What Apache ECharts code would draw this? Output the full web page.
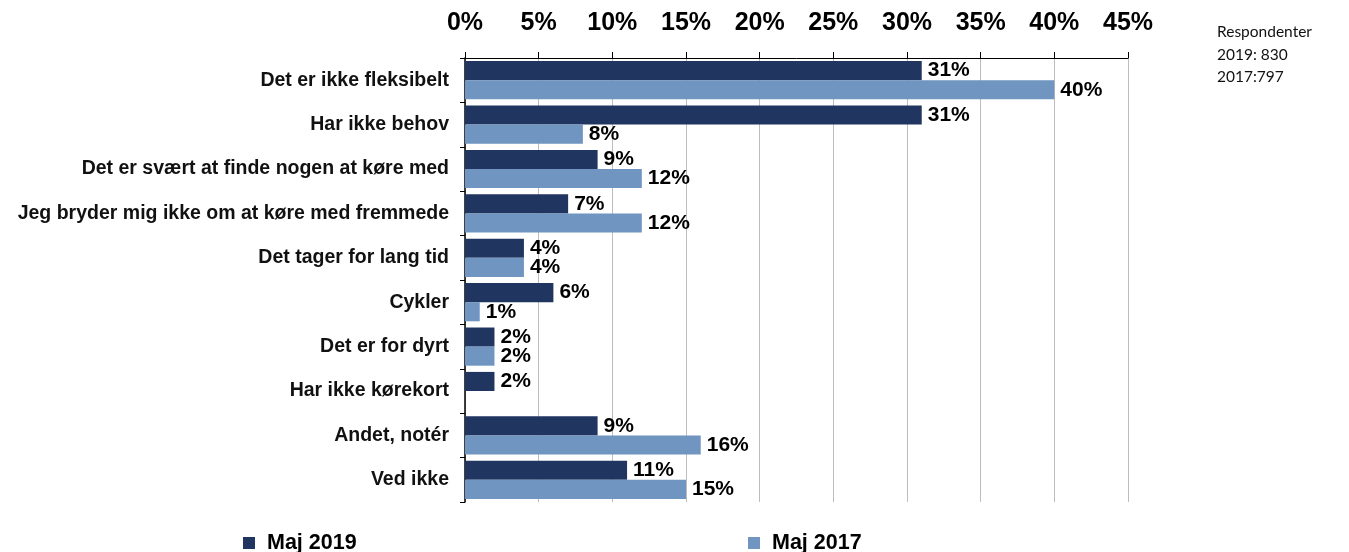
<!DOCTYPE html>
<html><head><meta charset="utf-8">
<script src="https://cdn.jsdelivr.net/npm/echarts@6/dist/echarts.min.js"></script>
<style>html,body{margin:0;padding:0;background:#fff}#c{width:1349px;height:552px}</style>
</head><body><div id="c"></div>
<script>
const categories = ["Det er ikke fleksibelt","Har ikke behov","Det er svært at finde nogen at køre med","Jeg bryder mig ikke om at køre med fremmede","Det tager for lang tid","Cykler","Det er for dyrt","Har ikke kørekort","Andet, notér","Ved ikke"];
const maj2019 = [31,31,9,7,4,6,2,2,9,11];
const maj2017 = [40,8,12,12,4,1,2,null,16,15];
const seriesNames = ["Maj 2019","Maj 2017"];
const respondentText = ["Respondenter","2019: 830","2017:797"];

const chart = echarts.init(document.getElementById('c'));
const FF = '"Liberation Sans", Arial, sans-serif';
const lbl = {show:true, position:'right', distance:6, formatter:'{c}%', fontFamily:FF, fontWeight:'bold', fontSize:21, color:'#000'};
const legText = {fontFamily:FF, fontWeight:'bold', fontSize:21.5, color:'#000', padding:[0,0,0,7]};
chart.setOption({
  animation:false,
  grid:{left:465, right:221, top:58, bottom:50, containLabel:false},
  xAxis:{type:'value', position:'top', min:0, max:45, interval:5,
    axisLine:{show:true, lineStyle:{color:'#000', width:1}},
    axisTick:{show:true, inside:false, length:6, lineStyle:{color:'#000'}},
    splitLine:{show:true, lineStyle:{color:'#bdbdbd', width:1}},
    axisLabel:{formatter:'{value}%', fontFamily:FF, fontWeight:'bold', fontSize:25, color:'#000', margin:22}
  },
  yAxis:{type:'category', data:categories, inverse:true,
    axisLine:{show:true, lineStyle:{color:'#000', width:1.5}},
    axisTick:{show:true, length:5, lineStyle:{color:'#000'}},
    axisLabel:{fontFamily:FF, fontWeight:'bold', fontSize:19.5, color:'#111', margin:16}
  },
  legend:[
    {data:[seriesNames[0]], left:238, top:527, itemWidth:12, itemHeight:12, itemGap:8, icon:'rect', textStyle:legText},
    {data:[seriesNames[1]], left:743, top:527, itemWidth:12, itemHeight:12, itemGap:8, icon:'rect', textStyle:legText}
  ],
  graphic:[{type:'text', left:1217, top:21, style:{text:respondentText.join('\n'), fontFamily:'Lato, "Open Sans", sans-serif', fontSize:15.5, lineHeight:22.5, fill:'#111'}}],
  series:[
    {name:seriesNames[0], type:'bar', data:maj2019, barGap:'0%', barCategoryGap:'14%', itemStyle:{color:'#213561'}, label:lbl},
    {name:seriesNames[1], type:'bar', data:maj2017, barGap:'0%', barCategoryGap:'14%', itemStyle:{color:'#6f95c0'}, label:lbl}
  ]
});
</script></body></html>
